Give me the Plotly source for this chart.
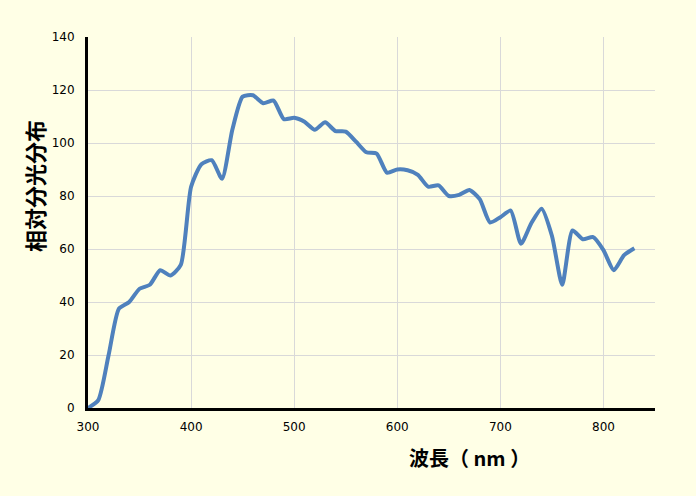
import plotly.graph_objects as go

wavelength = list(range(300, 840, 10))
intensity = [0, 3, 20, 37.5, 40, 45, 46.5, 52, 50, 54,
             83.5, 92, 93.5, 86.5, 105, 117.5, 118, 115, 116, 109,
             109.5, 108, 105, 107.8, 104.5, 104.3, 100.5, 96.5, 96, 88.8,
             90, 89.7, 88, 83.5, 84, 80, 80.4, 82.3, 78.8, 70,
             72, 74.5, 62, 69.7, 75.2, 65, 46.5, 67, 63.7, 64.5,
             59.6, 52, 57.7, 60.3]

x_title = "<b>波長（ nm ）</b>"
y_title = "<b>相対分光分布</b>"

bg = "#FFFFE6"
fig = go.Figure()
fig.add_trace(go.Scatter(
    x=wavelength, y=intensity, mode="lines",
    line=dict(color="#4F81BD", width=4, shape="spline", smoothing=0.6),
    hoverinfo="skip", showlegend=False))

fig.update_layout(
    width=696, height=496,
    paper_bgcolor=bg, plot_bgcolor=bg,
    margin=dict(l=88, r=41, t=37, b=88),
    font=dict(family="DejaVu Sans", size=12, color="#000000"),
    xaxis=dict(range=[300, 850], tickmode="array", tickvals=[300, 400, 500, 600, 700, 800],
               showgrid=True, gridcolor="#D9D9D9", gridwidth=1,
               showline=True, linecolor="#000000", linewidth=3,
               ticks="", zeroline=False, ticklabelstandoff=6),
    yaxis=dict(range=[0, 140], dtick=20,
               showgrid=True, gridcolor="#D9D9D9", gridwidth=1,
               showline=True, linecolor="#000000", linewidth=3,
               ticks="", zeroline=False, ticklabelstandoff=8),
    annotations=[
        dict(text=x_title, x=469, y=457, xref="paper", yref="paper", showarrow=False,
             font=dict(family="Noto Sans CJK JP", size=20, color="#000000"),
             xanchor="center", yanchor="middle"),
        dict(text=y_title, x=34, y=186, xref="paper", yref="paper", showarrow=False,
             textangle=-90,
             font=dict(family="Noto Sans CJK JP", size=22, color="#000000"),
             xanchor="center", yanchor="middle"),
    ],
)
# convert pixel positions of annotations to paper coords
pw = 696 - 88 - 41
ph = 496 - 37 - 88
for a in fig.layout.annotations:
    a.x = (a.x - 88) / pw
    a.y = (496 - 88 - a.y) / ph

fig.write_html("out.html", config={"displayModeBar": False},
               post_script="document.body.style.margin='0';document.body.style.background='%s';" % bg)
